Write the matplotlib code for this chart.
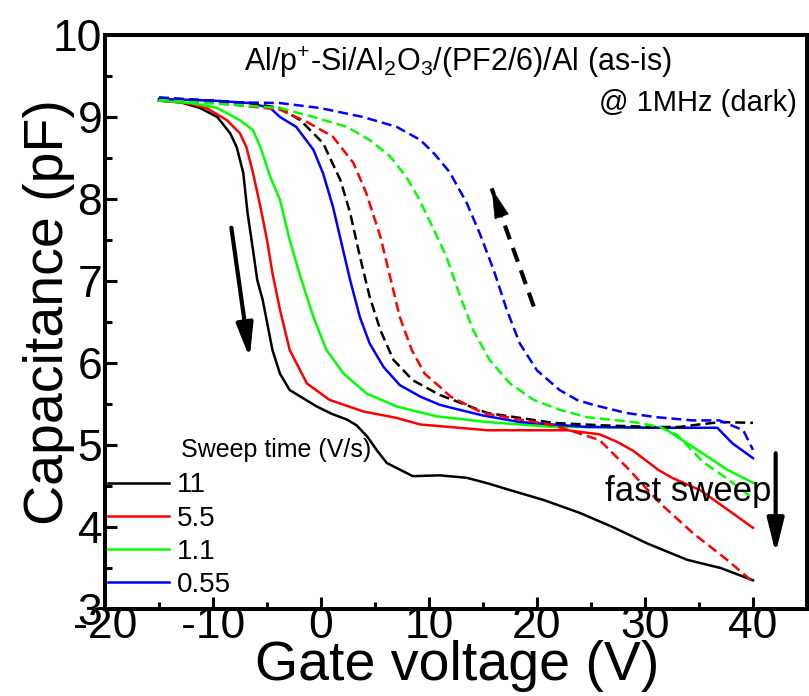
import matplotlib
matplotlib.use('Agg')
import matplotlib.pyplot as plt
from matplotlib import font_manager as fm

# font: Arial-metric sans
names = {f.name for f in fm.fontManager.ttflist}
FONT = 'Liberation Sans' if 'Liberation Sans' in names else 'DejaVu Sans'
plt.rcParams['font.family'] = [FONT, 'DejaVu Sans']
plt.rcParams['mathtext.default'] = 'regular'
plt.rcParams['axes.unicode_minus'] = False

# ---- data (gate voltage V, capacitance pF) ----
sweep_labels = ['11', '5.5', '1.1', '0.55']
colors = ['black', 'red', '#00ff00', 'blue']

# forward sweep (solid)
x_11 = [-15, -13, -11.2, -9.6, -8.4, -7.8, -7.2, -6.8, -6.3, -5.9, -5.4, -4.5, -3.8, -2.9, -1.9, -0.4,
        1.0, 2.4, 3.3, 4.3, 5.2, 6.1, 7.3, 8.5, 11.0, 13.5, 15.5, 17.5, 20.6, 24.0, 27.0, 30.2, 33.9, 37.0, 40.0]
y_11 = [9.20, 9.18, 9.11, 9.00, 8.80, 8.63, 8.32, 7.83, 7.38, 7.01, 6.77, 6.16, 5.87, 5.67, 5.59, 5.47,
        5.38, 5.31, 5.24, 5.10, 4.93, 4.78, 4.70, 4.62, 4.63, 4.60, 4.53, 4.45, 4.33, 4.17, 4.00, 3.80, 3.60, 3.50, 3.35]

x_55 = [-15, -12.5, -10.6, -8.7, -7.5, -6.9, -6.3, -5.6, -5.0, -4.5, -3.8, -2.9, -1.3, 0.8, 3.9, 7.0,
        9.2, 15.4, 22.8, 24.0, 25.8, 27.4, 28.9, 30.2, 31.2, 32.5, 35.1, 38.1, 40.0]
y_55 = [9.20, 9.17, 9.11, 8.96, 8.80, 8.63, 8.32, 7.90, 7.50, 7.10, 6.65, 6.16, 5.75, 5.55, 5.41, 5.33,
        5.25, 5.18, 5.18, 5.16, 5.13, 5.04, 4.93, 4.80, 4.70, 4.60, 4.45, 4.17, 3.99]

x_1p1 = [-15, -12, -9.6, -7.5, -6.3, -5.6, -4.7, -3.8, -2.9, -1.9, -0.7, 0.5, 2.1, 4.2, 7.0, 10.7,
         15.4, 21.5, 26.0, 31.7, 34.4, 37.6, 40.0]
y_1p1 = [9.20, 9.17, 9.11, 8.96, 8.84, 8.63, 8.27, 7.99, 7.50, 7.05, 6.56, 6.16, 5.87, 5.63, 5.47, 5.35,
         5.28, 5.22, 5.22, 5.21, 4.98, 4.70, 4.54]

x_055 = [-15, -10, -6.6, -4.7, -3.8, -2.3, -0.7, 0.2, 1.1, 1.9, 2.7, 3.6, 4.5, 5.8, 7.3, 9.2,
         11.0, 12.5, 15.0, 18.4, 24.6, 30.7, 36.7, 38.1, 40.0]
y_055 = [9.22, 9.20, 9.17, 9.11, 9.00, 8.88, 8.60, 8.31, 7.91, 7.46, 7.01, 6.56, 6.24, 5.95, 5.73, 5.59,
         5.49, 5.44, 5.36, 5.28, 5.22, 5.21, 5.21, 5.02, 4.84]

# reverse sweep (dashed)
xr_11 = [-15, -10, -6.6, -3.8, -1.9, 0.2, 1.8, 2.7, 3.6, 4.5, 5.5, 6.7, 8.5, 11.0, 15.4, 21.5,
         26.0, 30.7, 33.2, 35.0, 37.0, 40.0]
yr_11 = [9.23, 9.20, 9.17, 9.11, 8.96, 8.68, 8.23, 7.83, 7.30, 6.81, 6.40, 6.04, 5.79, 5.61, 5.39, 5.27,
         5.24, 5.22, 5.22, 5.25, 5.28, 5.27]

xr_55 = [-15, -9.6, -3.8, -1.3, 1.1, 3.0, 4.2, 5.5, 6.4, 7.3, 8.4, 9.6, 11.0, 12.0, 15.0, 21.5,
         23.7, 25.8, 28.3, 31.4, 34.4, 37.6, 40.0]
yr_55 = [9.21, 9.17, 9.09, 8.94, 8.76, 8.44, 8.07, 7.54, 7.05, 6.56, 6.16, 5.87, 5.71, 5.59, 5.39, 5.24,
         5.15, 5.06, 4.73, 4.29, 3.93, 3.60, 3.33]

xr_1p1 = [-15, -3.8, -0.7, 2.4, 4.5, 6.4, 7.9, 9.0, 10.4, 11.6, 12.9, 14.1, 15.6, 17.5, 19.7, 22.1,
          24.6, 28.9, 31.4, 33.0, 35.4, 37.5, 40.0]
yr_1p1 = [9.21, 9.11, 9.00, 8.88, 8.72, 8.52, 8.27, 8.02, 7.64, 7.30, 6.81, 6.40, 6.04, 5.75, 5.55, 5.43,
          5.34, 5.28, 5.22, 5.12, 4.79, 4.60, 4.35]

xr_055 = [-15, -8.1, -3.8, -0.1, 3.9, 7.0, 9.2, 10.5, 11.9, 13.5, 14.7, 16.0, 17.2, 18.4, 20.0, 22.1,
          23.7, 25.2, 28.3, 31.0, 34.4, 36.9, 39.1, 40.0]
yr_055 = [9.24, 9.18, 9.17, 9.11, 9.00, 8.88, 8.72, 8.55, 8.33, 7.95, 7.58, 7.13, 6.65, 6.24, 5.91, 5.67,
          5.55, 5.49, 5.39, 5.34, 5.30, 5.30, 5.18, 4.94]

forward = [(x_11, y_11), (x_55, y_55), (x_1p1, y_1p1), (x_055, y_055)]
reverse = [(xr_11, yr_11), (xr_55, yr_55), (xr_1p1, yr_1p1), (xr_055, yr_055)]

# arrows: (tail, head) in data coords
down_arrow = ((-8.3, 7.65), (-6.6, 6.06))
up_arrow = ((19.7, 6.69), (15.8, 8.13))
fast_arrow = ((42.1, 4.90), (42.1, 3.68))

fig = plt.figure(figsize=(8.09, 6.96), dpi=100)
ax = fig.add_axes([0.1298, 0.125, 0.8677, 0.8247])

lw = 1.8
for (x, y), c, lab in zip(forward, colors, sweep_labels):
    ax.plot(x, y, color=c, lw=lw, label=lab, solid_joinstyle='round')
for (x, y), c in zip(reverse, colors):
    ax.plot(x, y, color=c, lw=lw, dashes=(4, 2))

# arrows
head = '-|>,head_length=1.7,head_width=0.42'
(t, h) = down_arrow
ax.annotate('', xy=h, xytext=t,
            arrowprops=dict(arrowstyle=head, lw=3, color='k', shrinkA=0, shrinkB=0, mutation_scale=12))
(t, h) = up_arrow
ax.plot([t[0], h[0]], [t[1], h[1]], color='k', lw=3, dashes=(3.5, 2.2))
ax.annotate('', xy=h, xytext=(h[0] + (t[0] - h[0]) * 0.25, h[1] + (t[1] - h[1]) * 0.25),
            arrowprops=dict(arrowstyle=head, lw=0.5, color='k', shrinkA=0, shrinkB=0, mutation_scale=12))
(t, h) = fast_arrow
ax.annotate('', xy=h, xytext=t,
            arrowprops=dict(arrowstyle=head, lw=3, color='k', shrinkA=0, shrinkB=0, mutation_scale=12))

ax.text(34.0, 4.43, 'fast sweep', fontsize=25, ha='center', va='center')
ax.text(0.503, 0.953, r'Al/p$^{+}$-Si/Al$_2$O$_3$/(PF2/6)/Al (as-is)', transform=ax.transAxes,
        fontsize=22, ha='center', va='center')
ax.text(0.986, 0.882, '@ 1MHz (dark)', transform=ax.transAxes, fontsize=21, ha='right', va='center')
ax.text(0.244, 0.277, 'Sweep time (V/s)', transform=ax.transAxes, fontsize=18, ha='center', va='center')

ax.legend(loc='lower left', bbox_to_anchor=(0.004, 0.019), frameon=False, fontsize=20,
          borderaxespad=0, borderpad=0, handlelength=2.2, handletextpad=0.3, labelspacing=0.26)

ax.set_xlim(-20, 45)
ax.set_ylim(3, 10)
ax.set_xticks([-20, -10, 0, 10, 20, 30, 40])
ax.set_xticks([-15, -5, 5, 15, 25, 35], minor=True)
ax.set_yticks([3, 4, 5, 6, 7, 8, 9, 10])
ax.set_yticks([3.5, 4.5, 5.5, 6.5, 7.5, 8.5, 9.5], minor=True)
ax.tick_params(which='both', direction='in', top=False, right=False, width=2.2, labelsize=32)
ax.tick_params(which='major', length=8.6)
ax.tick_params(which='minor', length=5)
ax.tick_params(axis='x', pad=-2)
ax.tick_params(axis='y', pad=2)
for s in ax.spines.values():
    s.set_linewidth(2.9)

ax.set_xlabel('Gate voltage (V)', fontsize=40, va='baseline')
ax.xaxis.set_label_coords(0.501, -0.124)
ax.set_ylabel('Capacitance (pF)', fontsize=40, va='baseline')
ax.yaxis.set_label_coords(-0.06, 0.517)

fig.savefig('out.png', dpi=100)
